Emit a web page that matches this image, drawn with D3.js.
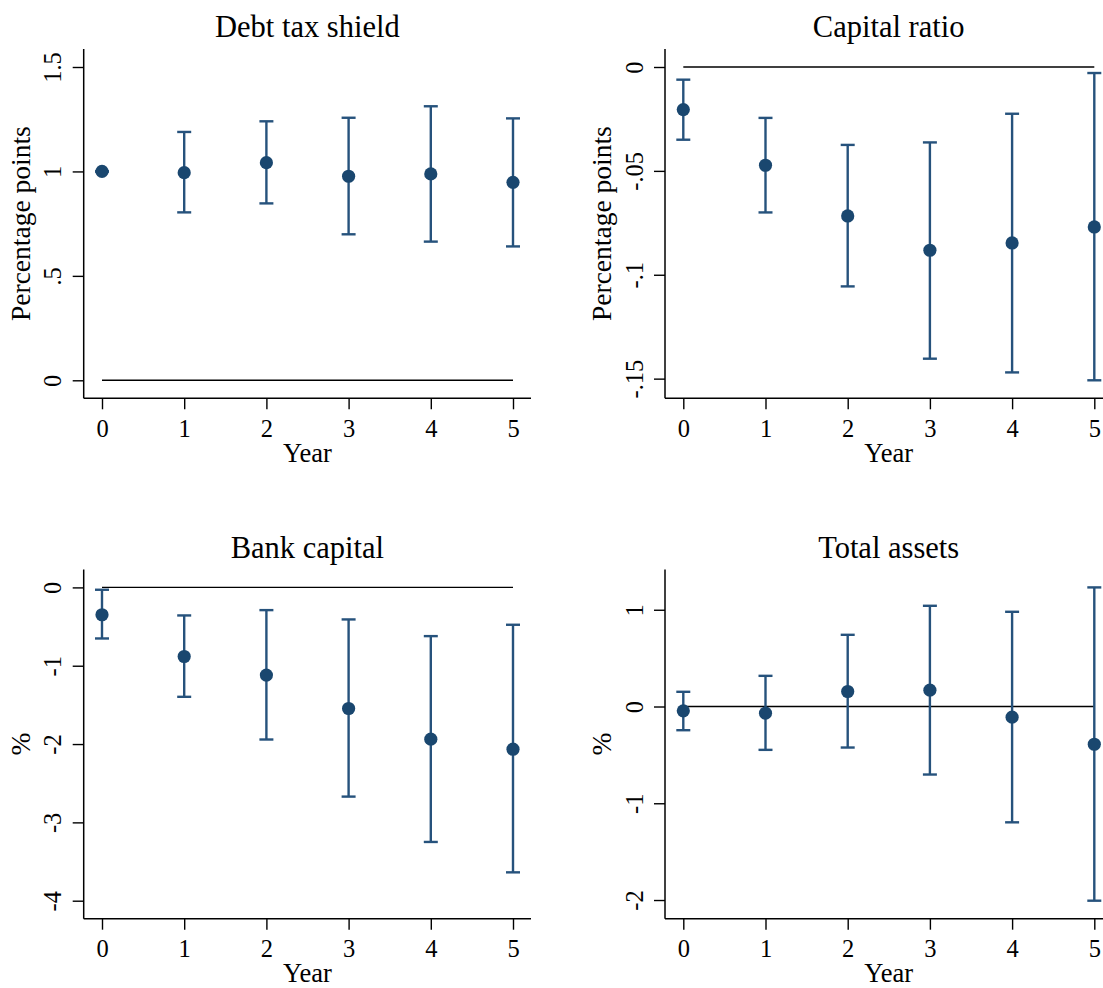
<!DOCTYPE html>
<html>
<head>
<meta charset="utf-8">
<script src="https://cdn.jsdelivr.net/npm/d3@7"></script>
<style>
  html, body { margin: 0; padding: 0; background: #fff; }
  svg { display: block; }
  text { font-family: "Liberation Serif", "Times New Roman", serif; fill: #000; }
</style>
</head>
<body>
<div id="chart"></div>
<script>
// event-study estimates
const years = [0, 1, 2, 3, 4, 5];

const debtTaxCoef = [1.000, 0.994, 1.042, 0.977, 0.988, 0.948];
const debtTaxLo   = [1.000, 0.804, 0.847, 0.699, 0.664, 0.641];
const debtTaxHi   = [1.000, 1.189, 1.240, 1.257, 1.312, 1.254];
const debtTaxTicks = [0, 0.5, 1, 1.5];
const debtTaxTickLabels = ["0", ".5", "1", "1.5"];

const capRatioCoef = [-0.0205, -0.0473, -0.0717, -0.0882, -0.0847, -0.0770];
const capRatioLo   = [-0.0350, -0.0700, -0.1056, -0.1404, -0.1470, -0.1508];
const capRatioHi   = [-0.0061, -0.0245, -0.0375, -0.0363, -0.0225, -0.0029];
const capRatioTicks = [-0.15, -0.1, -0.05, 0];
const capRatioTickLabels = ["-.15", "-.1", "-.05", "0"];

const bankCapCoef = [-0.349, -0.882, -1.120, -1.546, -1.938, -2.066];
const bankCapLo   = [-0.652, -1.397, -1.942, -2.671, -3.250, -3.638];
const bankCapHi   = [-0.030, -0.358, -0.290, -0.409, -0.622, -0.477];
const bankCapTicks = [-4, -3, -2, -1, 0];
const bankCapTickLabels = ["-4", "-3", "-2", "-1", "0"];

const assetsCoef = [-0.045, -0.069, 0.155, 0.169, -0.110, -0.390];
const assetsLo   = [-0.245, -0.448, -0.424, -0.703, -1.197, -2.007];
const assetsHi   = [0.152, 0.317, 0.741, 1.041, 0.979, 1.231];
const assetsTicks = [-2, -1, 0, 1];
const assetsTickLabels = ["-2", "-1", "0", "1"];

const panelTitles = ["Debt tax shield", "Capital ratio", "Bank capital", "Total assets"];
const yTitles = ["Percentage points", "Percentage points", "%", "%"];

const W = 1103, H = 988;
const markerColor = "#1a476f";
const barColor = "#26527c";

const svg = d3.select("#chart").append("svg")
    .attr("width", W)
    .attr("height", H);

svg.append("rect").attr("width", W).attr("height", H).attr("fill", "#fff");

// plot region inside each panel
const plot = {left: 83.7, top: 49, width: 447.3, height: 349.3};
const pad = {x0: 18.3, x1: 18, y0: 18, y1: 18};

const panels = [
    {coef: debtTaxCoef, lo: debtTaxLo, hi: debtTaxHi, ticks: debtTaxTicks, labels: debtTaxTickLabels, dx: 0, dy: 0},
    {coef: capRatioCoef, lo: capRatioLo, hi: capRatioHi, ticks: capRatioTicks, labels: capRatioTickLabels, dx: 581.3, dy: 0},
    {coef: bankCapCoef, lo: bankCapLo, hi: bankCapHi, ticks: bankCapTicks, labels: bankCapTickLabels, dx: 0, dy: 520.4},
    {coef: assetsCoef, lo: assetsLo, hi: assetsHi, ticks: assetsTicks, labels: assetsTickLabels, dx: 581.3, dy: 520.4},
];

panels.forEach((p, i) => {
    const g = svg.append("g")
        .attr("transform", `translate(${p.dx + plot.left},${p.dy + plot.top})`);

    const x = d3.scaleLinear()
        .domain([0, 5])
        .range([pad.x0, plot.width - pad.x1]);

    const y = d3.scaleLinear()
        .domain(d3.extent([...p.ticks, ...p.lo, ...p.hi]))
        .range([plot.height - pad.y1, pad.y0]);

    // y axis
    const yAxis = g.append("g")
        .call(d3.axisLeft(y)
            .tickValues(p.ticks)
            .tickFormat((d, k) => p.labels[k])
            .tickSize(11)
            .tickSizeOuter(0));
    yAxis.select(".domain").remove();
    yAxis.selectAll(".tick line").attr("stroke", "#000").attr("stroke-width", 1.4);
    yAxis.selectAll(".tick text")
        .attr("x", null)
        .attr("dy", null)
        .attr("text-anchor", "middle")
        .attr("transform", "translate(-22.2,0) rotate(-90)")
        .style("font-size", "24.5px")
        .style("font-family", "'Liberation Serif', serif");

    // x axis
    const xAxis = g.append("g")
        .attr("transform", `translate(0,${plot.height})`)
        .call(d3.axisBottom(x)
            .tickValues(years)
            .tickFormat(d3.format("d"))
            .tickSize(11)
            .tickSizeOuter(0));
    xAxis.select(".domain").remove();
    xAxis.selectAll(".tick line").attr("stroke", "#000").attr("stroke-width", 1.4);
    xAxis.selectAll(".tick text")
        .attr("y", 38.4)
        .attr("dy", null)
        .style("font-size", "24.5px")
        .style("font-family", "'Liberation Serif', serif");

    // axis lines
    g.append("line")
        .attr("x1", 0).attr("x2", 0)
        .attr("y1", 0).attr("y2", plot.height)
        .attr("stroke", "#000").attr("stroke-width", 1.5);
    g.append("line")
        .attr("x1", 0).attr("x2", plot.width)
        .attr("y1", plot.height).attr("y2", plot.height)
        .attr("stroke", "#000").attr("stroke-width", 1.5);

    // zero reference line
    g.append("line")
        .attr("x1", x(0)).attr("x2", x(5))
        .attr("y1", y(0)).attr("y2", y(0))
        .attr("stroke", "#000").attr("stroke-width", 1.4);

    const rows = years.map((yr, k) => ({yr, c: p.coef[k], lo: p.lo[k], hi: p.hi[k]}));

    // confidence intervals
    const ci = g.append("g").attr("stroke", barColor).attr("stroke-width", 2.4);
    ci.selectAll(".stem").data(rows).join("line")
        .attr("x1", d => x(d.yr)).attr("x2", d => x(d.yr))
        .attr("y1", d => y(d.hi)).attr("y2", d => y(d.lo));
    ci.selectAll(".capHi").data(rows).join("line")
        .attr("x1", d => x(d.yr) - 7).attr("x2", d => x(d.yr) + 7)
        .attr("y1", d => y(d.hi)).attr("y2", d => y(d.hi));
    ci.selectAll(".capLo").data(rows).join("line")
        .attr("x1", d => x(d.yr) - 7).attr("x2", d => x(d.yr) + 7)
        .attr("y1", d => y(d.lo)).attr("y2", d => y(d.lo));

    // point estimates
    g.selectAll("circle").data(rows).join("circle")
        .attr("cx", d => x(d.yr))
        .attr("cy", d => y(d.c))
        .attr("r", 6.6)
        .attr("fill", markerColor);

    // titles
    g.append("text")
        .attr("x", plot.width / 2)
        .attr("y", 37.3 - plot.top)
        .attr("text-anchor", "middle")
        .style("font-size", "30.5px")
        .text(panelTitles[i]);

    g.append("text")
        .attr("transform", `translate(${30 - plot.left},${plot.height / 2}) rotate(-90)`)
        .attr("text-anchor", "middle")
        .style("font-size", "27.5px")
        .text(yTitles[i]);

    g.append("text")
        .attr("x", plot.width / 2)
        .attr("y", 461.7 - plot.top)
        .attr("text-anchor", "middle")
        .style("font-size", "26.5px")
        .text("Year");
});
</script>
</body>
</html>
